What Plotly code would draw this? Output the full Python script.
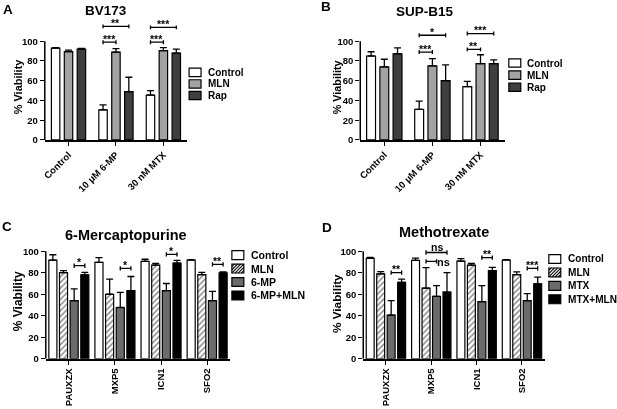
import plotly.graph_objects as go

W, H = 617, 409
FONT = "Liberation Sans, Arial, sans-serif"

# ---- Panel A: BV173 ----
a_categories = ["Control", "10 μM 6-MP", "30 nM MTX"]
a_series = ["Control", "MLN", "Rap"]
a_values = [[93.0, 30.5, 45.5], [89.5, 89.0, 90.5], [92.0, 49.0, 88.0]]
a_errors = [[0.5, 5.0, 4.5], [1.5, 3.5, 3.0], [0.7, 14.5, 4.0]]
# (category, series i, series j, height, label)
a_sig = [(1, 0, 1, 99, "***"), (1, 0, 2, 115, "**"),
         (2, 0, 1, 99, "***"), (2, 0, 2, 114, "***")]

# ---- Panel B: SUP-B15 ----
b_categories = ["Control", "10 μM 6-MP", "30 nM MTX"]
b_series = ["Control", "MLN", "Rap"]
b_values = [[85.0, 31.0, 54.0], [74.0, 75.0, 77.3], [87.3, 60.0, 77.3]]
b_errors = [[4.3, 8.3, 5.3], [7.7, 7.3, 9.0], [6.0, 16.0, 3.7]]
b_sig = [(1, 0, 1, 89, "***"), (1, 0, 2, 106, "*"),
         (2, 0, 1, 91.7, "**"), (2, 0, 2, 107.7, "***")]

# ---- Panel C: 6-Mercaptopurine ----
c_categories = ["PAUXZX", "MXP5", "ICN1", "SFO2"]
c_series = ["Control", "MLN", "6-MP", "6-MP+MLN"]
c_values = [[91.7, 89.6, 90.5, 91.8], [80.0, 60.0, 87.0, 78.3],
            [54.0, 47.7, 63.3, 54.0], [78.0, 63.3, 89.0, 79.8]]
c_errors = [[5.0, 4.5, 2.0, 0.4], [2.0, 14.0, 1.7, 2.0],
            [11.0, 14.0, 6.7, 8.7], [2.4, 13.2, 2.4, 1.0]]
c_sig = [(0, 2, 3, 86.5, "*"), (1, 2, 3, 84, "*"),
         (2, 2, 3, 97, "*"), (3, 2, 3, 87.8, "**")]

# ---- Panel D: Methotrexate ----
d_categories = ["PAUXZX", "MXP5", "ICN1", "SFO2"]
d_series = ["Control", "MLN", "MTX", "MTX+MLN"]
d_values = [[93.3, 91.4, 90.8, 91.8], [79.0, 65.7, 87.0, 78.3],
            [40.7, 58.0, 53.2, 54.0], [71.0, 62.0, 82.0, 69.7]]
d_errors = [[1.0, 2.2, 2.2, 0.4], [2.0, 19.0, 1.7, 2.4],
            [13.3, 10.0, 14.8, 6.5], [3.0, 18.0, 3.0, 6.3]]
d_sig = [(0, 2, 3, 80, "**"), (1, 1, 3, 98.8, "ns"), (1, 1, 2, 90.5, "ns-side"),
         (2, 2, 3, 94, "**"), (3, 2, 3, 84, "***")]


def px_x(v):
    return v / W


def px_y(v):
    return 1 - v / H


panels = [
    dict(letter="A", title="BV173", cats=a_categories, names=a_series, values=a_values,
         errors=a_errors, sig=a_sig, colors=["white", "#a3a3a3", "#3f3f3f"],
         hatch=[False, False, False], slot=0.272, barw=0.178,
         xpx=(42, 185), ypx=(141.7, 41.7), ytop=125, tickangle=-45,
         letter_pos=(5, 9.5), title_pos=(104, 11), title_size=13.5,
         ytitle_pos=(15.5, 87), ytitle_size=11,
         leg=dict(x=187, w=12, h=8.5, y=73.3, pitch=11.7, tx=204, size=10)),
    dict(letter="B", title="SUP-B15", cats=b_categories, names=b_series, values=b_values,
         errors=b_errors, sig=b_sig, colors=["white", "#a3a3a3", "#3f3f3f"],
         hatch=[False, False, False], slot=0.275, barw=0.185,
         xpx=(359, 504), ypx=(141.7, 41.7), ytop=125, tickangle=-45,
         letter_pos=(325, 7), title_pos=(424.5, 11.5), title_size=13.5,
         ytitle_pos=(336.5, 88.5), ytitle_size=10.8,
         leg=dict(x=508.3, w=12, h=8.5, y=63.8, pitch=12.25, tx=524.5, size=10)),
    dict(letter="C", title="6-Mercaptopurine", cats=c_categories, names=c_series, values=c_values,
         errors=c_errors, sig=c_sig, colors=["white", "white", "#6b6b6b", "black"],
         hatch=[False, True, False, False], slot=0.231, barw=0.175,
         xpx=(43, 228.3), ypx=(363.3, 254.3), ytop=110, tickangle=-90,
         letter_pos=(4, 229.5), title_pos=(123.5, 237.5), title_size=14.5,
         ytitle_pos=(15, 305), ytitle_size=12,
         leg=dict(x=230, w=12, h=9, y=258.3, pitch=13.6, tx=247.5, size=10.5)),
    dict(letter="D", title="Methotrexate", cats=d_categories, names=d_series, values=d_values,
         errors=d_errors, sig=d_sig, colors=["white", "white", "#6b6b6b", "black"],
         hatch=[False, True, False, False], slot=0.231, barw=0.175,
         xpx=(362, 544.3), ypx=(363.3, 254.3), ytop=110, tickangle=-90,
         letter_pos=(326, 230.8), title_pos=(443.5, 235), title_size=14.5,
         ytitle_pos=(335, 307.5), ytitle_size=11.8,
         leg=dict(x=548.5, w=12, h=9, y=262.2, pitch=13.6, tx=565.5, size=10.1)),
]

fig = go.Figure()
layout = {}
shapes = []
annotations = []

bold = dict(family=FONT, color="black", weight="bold")

for n, p in enumerate(panels, start=1):
    xa = "x" if n == 1 else f"x{n}"
    ya = "y" if n == 1 else f"y{n}"
    k = len(p["names"])
    offsets = [-k * p["slot"] / 2 + i * p["slot"] + (p["slot"] - p["barw"]) / 2 for i in range(k)]
    xs = list(range(len(p["cats"])))

    for i, name in enumerate(p["names"]):
        if p["hatch"][i]:
            pattern = dict(shape="/", fgcolor="black", bgcolor="white", size=4, solidity=0.35)
        else:
            pattern = dict(shape="")
        fig.add_trace(go.Bar(
            x=xs, y=p["values"][i], name=name,
            width=p["barw"], offset=offsets[i],
            marker=dict(color=p["colors"][i], line=dict(color="black", width=1.2), pattern=pattern),
            error_y=dict(type="data", array=p["errors"][i], arrayminus=[0] * len(xs),
                         symmetric=False, color="black", thickness=1.3, width=3.5),
            xaxis=xa, yaxis=ya, showlegend=False,
        ))

    # axes
    y0px, y100px = p["ypx"]
    ppu = (y0px - y100px) / 100.0
    top_px = y0px - p["ytop"] * ppu
    layout[f"xaxis{n}"] = dict(
        domain=[px_x(p["xpx"][0]), px_x(p["xpx"][1])], anchor=ya,
        range=[-0.5, len(xs) - 0.5], tickvals=xs, ticktext=p["cats"], tickangle=p["tickangle"],
        ticks="outside", ticklen=4, tickwidth=1.3, tickcolor="black",
        showline=True, linecolor="black", linewidth=1.5, showgrid=False, zeroline=False,
        tickfont=dict(size=9.5, **bold), fixedrange=True,
    )
    layout[f"yaxis{n}"] = dict(
        domain=[px_y(y0px), px_y(top_px)], anchor=xa,
        range=[0, p["ytop"]], tickvals=[0, 20, 40, 60, 80, 100],
        ticks="outside", ticklen=4, tickwidth=1.3, tickcolor="black",
        showline=False, showgrid=False, zeroline=False,
        tickfont=dict(size=9.5, **bold), fixedrange=True,
    )
    # y axis line only from 0 to 100
    shapes.append(dict(type="line", xref=f"{xa} domain", yref=ya, x0=0, x1=0, y0=0, y1=100,
                       line=dict(color="black", width=1.5)))

    # significance brackets
    cap = 2.0
    for c, i, j, yb, label in p["sig"]:
        xl = c + offsets[i] + p["barw"] / 2
        xr = c + offsets[j] + p["barw"] / 2
        for seg in [(xl, yb, xr, yb), (xl, yb - cap, xl, yb + cap), (xr, yb - cap, xr, yb + cap)]:
            shapes.append(dict(type="line", xref=xa, yref=ya, x0=seg[0], y0=seg[1], x1=seg[2], y1=seg[3],
                               line=dict(color="black", width=1.3)))
        if label == "ns-side":
            annotations.append(dict(x=xr, y=yb, xref=xa, yref=ya, text="ns", showarrow=False,
                                    xanchor="left", yanchor="middle", xshift=-1, yshift=-1,
                                    borderpad=0, font=dict(size=11, **bold)))
        else:
            is_star = label.startswith("*")
            annotations.append(dict(x=(xl + xr) / 2, y=yb, xref=xa, yref=ya, text=label, showarrow=False,
                                    xanchor="center", yanchor="bottom", yshift=-3.5 if is_star else -1.5,
                                    borderpad=0, font=dict(size=10.5, **bold)))

    # letters, titles, y titles
    lx, ly = p["letter_pos"]
    annotations.append(dict(x=px_x(lx), y=px_y(ly), xref="paper", yref="paper", text=p["letter"],
                            showarrow=False, xanchor="center", yanchor="middle", font=dict(size=13.5, **bold)))
    tx, ty = p["title_pos"]
    annotations.append(dict(x=px_x(tx), y=px_y(ty), xref="paper", yref="paper", text=p["title"],
                            showarrow=False, xanchor="center", yanchor="middle", borderpad=0,
                            font=dict(size=p["title_size"], **bold)))
    vx, vy = p["ytitle_pos"]
    annotations.append(dict(x=px_x(vx), y=px_y(vy), xref="paper", yref="paper", text="% Viability",
                            showarrow=False, xanchor="center", yanchor="middle", textangle=-90,
                            font=dict(size=p["ytitle_size"], **bold)))

    # legend drawn by hand (GraphPad-style compact rows)
    lg = p["leg"]
    for i, name in enumerate(p["names"]):
        yc = lg["y"] + i * lg["pitch"]
        x0, x1 = lg["x"], lg["x"] + lg["w"]
        t0, t1 = yc - lg["h"] / 2, yc + lg["h"] / 2
        shapes.append(dict(type="rect", xref="paper", yref="paper",
                           x0=px_x(x0), x1=px_x(x1), y0=px_y(t1), y1=px_y(t0),
                           fillcolor=p["colors"][i], line=dict(color="black", width=1.2)))
        if p["hatch"][i]:
            s = x0 + t0 + 2.5
            while s < x1 + t1:
                va = max(t0, s - x1)
                vb = min(t1, s - x0)
                if vb > va:
                    shapes.append(dict(type="line", xref="paper", yref="paper",
                                       x0=px_x(s - va), y0=px_y(va), x1=px_x(s - vb), y1=px_y(vb),
                                       line=dict(color="black", width=1.1)))
                s += 3.2
        annotations.append(dict(x=px_x(lg["tx"]), y=px_y(yc), xref="paper", yref="paper", text=name,
                                showarrow=False, xanchor="left", yanchor="middle",
                                font=dict(size=lg["size"], **bold)))

fig.update_layout(
    **layout,
    shapes=shapes,
    annotations=annotations,
    width=W, height=H, autosize=False,
    margin=dict(l=0, r=0, t=0, b=0),
    paper_bgcolor="white", plot_bgcolor="white",
    showlegend=False,
    font=dict(family=FONT, color="black"),
)

# the page's default body margin would shift the figure; drop it.
# will-change keeps text antialiasing greyscale (no colour fringes on the small asterisks)
fig.write_html(
    "out.html",
    config={"displayModeBar": False},
    post_script="document.body.style.margin='0';"
                "document.querySelectorAll('.plotly-graph-div').forEach(function(d){d.style.willChange='transform';});",
)
